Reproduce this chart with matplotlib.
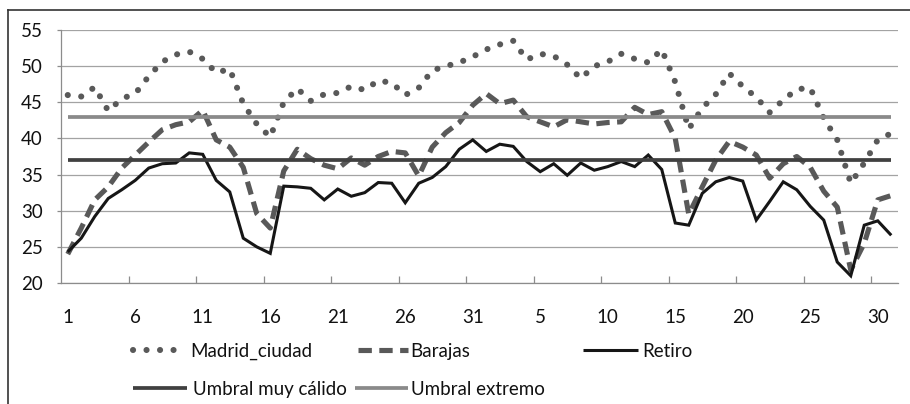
import matplotlib
matplotlib.use("Agg")
import matplotlib.pyplot as plt
from matplotlib.lines import Line2D

# ---------------- data ----------------
tick_labels = ["1", "6", "11", "16", "21", "26", "31", "5", "10", "15", "20", "25", "30"]

madrid_ciudad = [
    46.0, 45.8, 47.1, 43.8, 45.5, 46.2, 48.6, 50.6, 51.6, 52.0,
    51.0, 49.1, 49.6, 44.8, 42.0, 40.2, 45.0, 46.9, 45.2, 46.1,
    46.3, 47.2, 46.7, 48.0, 47.7, 46.0, 47.0, 49.4, 50.0, 50.5,
    51.3,
    52.3, 53.0, 53.5, 50.9, 51.7, 51.4, 50.2, 48.3, 50.0, 50.6,
    51.7, 51.0, 50.5, 52.3, 47.8, 41.3, 44.2, 46.1, 49.0, 47.2,
    45.7, 43.6, 45.3, 46.8, 47.0, 42.8, 39.8, 33.8, 36.6, 39.8,
    40.7,
]

barajas = [
    24.0, 27.6, 31.5, 33.3, 35.9, 37.7, 39.5, 41.2, 41.9, 42.3,
    43.9, 39.8, 38.8, 36.0, 29.6, 27.6, 35.5, 38.5, 37.2, 36.3,
    35.8, 37.3, 36.3, 37.5, 38.2, 38.0, 34.8, 38.8, 40.8, 42.2,
    44.6,
    46.2, 44.8, 45.3, 43.0, 42.3, 41.6, 42.6, 42.3, 42.0, 42.2,
    42.3, 44.3, 43.3, 43.7, 40.0, 29.5, 33.3, 37.0, 39.6, 38.8,
    37.7, 34.5, 36.5, 37.5, 36.0, 32.7, 30.5, 21.8, 25.5, 31.5,
    32.1,
]

retiro = [
    24.3, 26.2, 29.2, 31.7, 32.9, 34.2, 35.9, 36.5, 36.6, 38.0,
    37.8, 34.2, 32.6, 26.2, 25.0, 24.1, 33.4, 33.3, 33.1, 31.5,
    33.0, 32.0, 32.5, 33.9, 33.8, 31.1, 33.8, 34.6, 36.1, 38.5,
    39.8,
    38.2, 39.2, 38.9, 36.8, 35.4, 36.5, 34.9, 36.6, 35.6, 36.1,
    36.8, 36.1, 37.7, 35.7, 28.3, 28.0, 32.4, 34.0, 34.6, 34.1,
    28.7, 31.3, 34.0, 32.9, 30.6, 28.7, 22.9, 21.0, 28.0, 28.6,
    26.6,
]

umbral_muy_calido = 37
umbral_extremo = 43

# ---------------- figure ----------------
W, H = 910, 404
plt.rcParams["font.family"] = ["Lato", "DejaVu Sans"]
fig = plt.figure(figsize=(W / 100, H / 100), dpi=100)
fig.patch.set_facecolor("white")


def fx(px):
    return px / W


def fy(py):
    return 1 - py / H


ax = fig.add_axes([fx(61), fy(283), fx(898) - fx(61), fy(30) - fy(283)])

n = len(retiro)
xs = list(range(n))

dot_style = dict(color="#595959", lw=4.4, linestyle=(0, (0.01, 2.2)),
                 dash_capstyle="round", solid_capstyle="round")
dash_style = dict(color="#595959", lw=3.7, linestyle=(0, (2.6, 1.45)),
                  dash_capstyle="butt")
retiro_style = dict(color="#161616", lw=2.2, solid_joinstyle="miter",
                    solid_capstyle="butt")
muy_style = dict(color="#404040", lw=2.7, solid_capstyle="butt")
ext_style = dict(color="#8a8a8a", lw=2.7, solid_capstyle="butt")

ax.plot(xs, madrid_ciudad, zorder=3, **dot_style)
ax.plot(xs, barajas, zorder=4, **dash_style)
ax.plot(xs, retiro, zorder=5, **retiro_style)
ax.plot(xs, [umbral_muy_calido] * n, zorder=6, **muy_style)
ax.plot(xs, [umbral_extremo] * n, zorder=7, **ext_style)

ax.set_xlim(-0.5, n - 0.5)
ax.set_ylim(20, 55)
ax.set_yticks(range(20, 56, 5))
ax.grid(axis="y", color="#a3a3a3", lw=0.9)
ax.set_axisbelow(True)

for s in ("top", "right"):
    ax.spines[s].set_visible(False)
for s in ("left", "bottom"):
    ax.spines[s].set_color("#8c8c8c")
    ax.spines[s].set_linewidth(0.9)

ax.set_xticks(list(range(0, n, 5)))
ax.set_xticklabels(tick_labels)
ax.set_xticks([4.5 + 5 * k for k in range(12)], minor=True)
ax.tick_params(axis="x", which="major", length=0, pad=19, labelsize=13.5,
               labelcolor="#111111")
ax.tick_params(axis="x", which="minor", direction="in", length=5,
               color="#8c8c8c", width=0.9)
ax.tick_params(axis="y", which="major", direction="out", length=3,
               color="#8c8c8c", width=0.9, pad=10, labelsize=13.5,
               labelcolor="#111111")

# ---------------- legend (drawn as Excel lays it out) ----------------
legend_items = [
    ("Madrid_ciudad", dot_style, 133, 183, 190, 350),
    ("Barajas", dash_style, 358, 408, 410, 350),
    ("Retiro", retiro_style, 583, 638, 642, 350),
    ("Umbral muy cálido", muy_style, 133, 187, 193, 388),
    ("Umbral extremo", ext_style, 355, 408, 411, 388),
]
for label, style, x0, x1, tx, ty in legend_items:
    fig.add_artist(Line2D([fx(x0), fx(x1)], [fy(ty), fy(ty)],
                          transform=fig.transFigure, **style))
    fig.text(fx(tx), fy(ty), label, fontsize=13.5, color="#111111",
             ha="left", va="center_baseline")

# chart-area border (top and left edges visible in the crop)
fig.add_artist(Line2D([fx(7.5), fx(7.5)], [fy(10), 0], transform=fig.transFigure,
                      color="#333333", lw=1.2))
fig.add_artist(Line2D([fx(7.5), 1], [fy(10), fy(10)], transform=fig.transFigure,
                      color="#333333", lw=1.2))

fig.savefig("out.png", dpi=100, facecolor="white")
